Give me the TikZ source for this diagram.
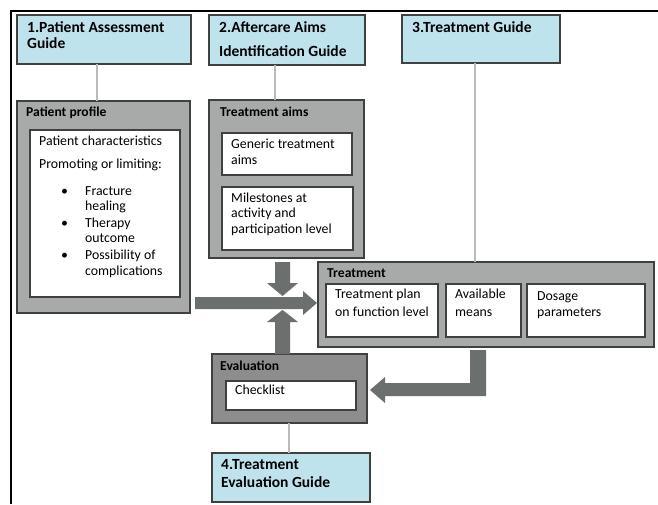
\documentclass[tikz,border=0pt]{standalone}
\usepackage{fontspec}
\setmainfont{Carlito}
\usetikzlibrary{calc}
\definecolor{guideblue}{HTML}{BFE3ED}
\definecolor{panelgray}{HTML}{A8AAA9}
\definecolor{evalgray}{HTML}{8C8D8C}
\definecolor{arrowgray}{HTML}{6B6F6D}
\definecolor{linkgray}{HTML}{BBBBBB}
\definecolor{edgegray}{HTML}{3F4140}
\begin{document}
\begin{tikzpicture}[x=1pt,y=-1pt,
 box/.style={draw=edgegray, line width=1.1pt, anchor=north west, inner sep=0pt, outer sep=0pt},
 guide/.style={box, fill=guideblue},
 panel/.style={box, fill=panelgray},
 evalpanel/.style={box, fill=evalgray},
 innerbox/.style={box, fill=white},
 ttl/.style={anchor=base west, inner sep=0pt, font=\fontsize{15.5}{18}\selectfont\bfseries},
 lbl/.style={anchor=base west, inner sep=0pt, font=\fontsize{13.6}{16}\selectfont\bfseries},
 txt/.style={anchor=base west, inner sep=0pt, font=\fontsize{13.8}{16}\selectfont},
 link/.style={draw=linkgray, line width=2pt},
 blockarrow/.style={fill=arrowgray, draw=none},
]
\useasboundingbox (0,0) rectangle (658,504);
\fill[white] (0,0) rectangle (658,504);
% outer frame
\draw[black, line width=2pt] (11,504) -- (11,11) -- (658,11);

% guide boxes
\node[guide, minimum width=174pt, minimum height=49pt] (b1) at (17,15) {};
\node[ttl] (b1t1) at (27,32) {1.Patient Assessment};
\node[ttl] (b1t2) at (27,48) {Guide};

\node[guide, minimum width=156pt, minimum height=50pt] (b2) at (209,15) {};
\node[ttl] (b2t1) at (219,32) {2.Aftercare Aims};
\node[ttl] (b2t2) at (219,56) {Identification Guide};

\node[guide, minimum width=158pt, minimum height=48pt] (b3) at (402,15) {};
\node[ttl] (b3t1) at (412,32) {3.Treatment Guide};

\node[guide, minimum width=158pt, minimum height=49pt] (b4) at (212,453) {};
\node[ttl] (b4t1) at (221,469) {4.Treatment};
\node[ttl] (b4t2) at (221,487) {Evaluation Guide};

% patient profile
\node[panel, minimum width=173pt, minimum height=212pt] (pp) at (17,101) {};
\node[lbl] (ppl) at (26,116) {Patient profile};
\node[innerbox, minimum width=150pt, minimum height=167pt] (ppi) at (30,130) {};
\node[txt] (pc1) at (39,145) {Patient characteristics};
\node[txt] (pc2) at (39,168) {Promoting or limiting:};
\node[txt] (bu1) at (61,195) {•};
\node[txt] (pc3) at (85,195) {Fracture};
\node[txt] (pc4) at (85,210) {healing};
\node[txt] (bu2) at (61,227) {•};
\node[txt] (pc5) at (85,227) {Therapy};
\node[txt] (pc6) at (85,242) {outcome};
\node[txt] (bu3) at (61,259) {•};
\node[txt] (pc7) at (85,259) {Possibility of};
\node[txt] (pc8) at (85,275) {complications};

% treatment aims
\node[panel, minimum width=155pt, minimum height=158pt] (ta) at (209,100) {};
\node[lbl] (tal) at (220,116) {Treatment aims};
\node[innerbox, minimum width=130pt, minimum height=42pt] (ta1) at (222,133) {};
\node[txt] (ta1a) at (231,148) {Generic treatment};
\node[txt] (ta1b) at (231,164) {aims};
\node[innerbox, minimum width=131pt, minimum height=63pt] (ta2) at (222,187) {};
\node[txt] (ta2a) at (231,202) {Milestones at};
\node[txt] (ta2b) at (231,217) {activity and};
\node[txt] (ta2c) at (231,233) {participation level};

% treatment
\node[panel, minimum width=336pt, minimum height=85pt] (tr) at (318,262) {};
\node[lbl] (trl) at (327,277) {Treatment};
\node[innerbox, minimum width=112pt, minimum height=53pt] (tr1) at (326,284) {};
\node[txt] (tr1a) at (335,298) {Treatment plan};
\node[txt] (tr1b) at (335,316) {on function level};
\node[innerbox, minimum width=75pt, minimum height=53pt] (tr2) at (446,284) {};
\node[txt] (tr2a) at (455,298) {Available};
\node[txt] (tr2b) at (455,316) {means};
\node[innerbox, minimum width=118pt, minimum height=53pt] (tr3) at (527,284) {};
\node[txt] (tr3a) at (537,300) {Dosage};
\node[txt] (tr3b) at (537,316) {parameters};

% evaluation
\node[evalpanel, minimum width=155pt, minimum height=69pt] (ev) at (212,354) {};
\node[lbl] (evl) at (220,370) {Evaluation};
\node[innerbox, minimum width=130pt, minimum height=29pt] (evi) at (226,381) {};
\node[txt] (evt) at (235,394) {Checklist};

% thin connectors
\draw[link] ([xshift=80pt]b1.south west) -- ([xshift=80pt]pp.north west);
\draw[link] ([xshift=66pt]b2.south west) -- ([xshift=66pt]ta.north west);
\coordinate (c3) at ($(b3.south west)+(73,0)$);
\draw[link] (c3) -- (c3 |- tr.north);
\draw[link] ([xshift=77pt]ev.south west) -- ([xshift=77pt]b4.north west);

% block arrows
\fill[blockarrow] (195,297) -- (303,297) -- (303,291) -- (317,303) -- (303,315) -- (303,309) -- (195,309) -- cycle;
\fill[blockarrow] (275,262) -- (290,262) -- (290,283) -- (298,283) -- (282.5,296) -- (267,283) -- (275,283) -- cycle;
\fill[blockarrow] (275,354) -- (290,354) -- (290,322) -- (298,322) -- (282.5,310) -- (267,322) -- (275,322) -- cycle;
\fill[blockarrow] (470,350) -- (486,350) -- (486,396) -- (385,396) -- (385,403) -- (370,390) -- (385,377) -- (385,383) -- (470,383) -- cycle;
\end{tikzpicture}
\end{document}
